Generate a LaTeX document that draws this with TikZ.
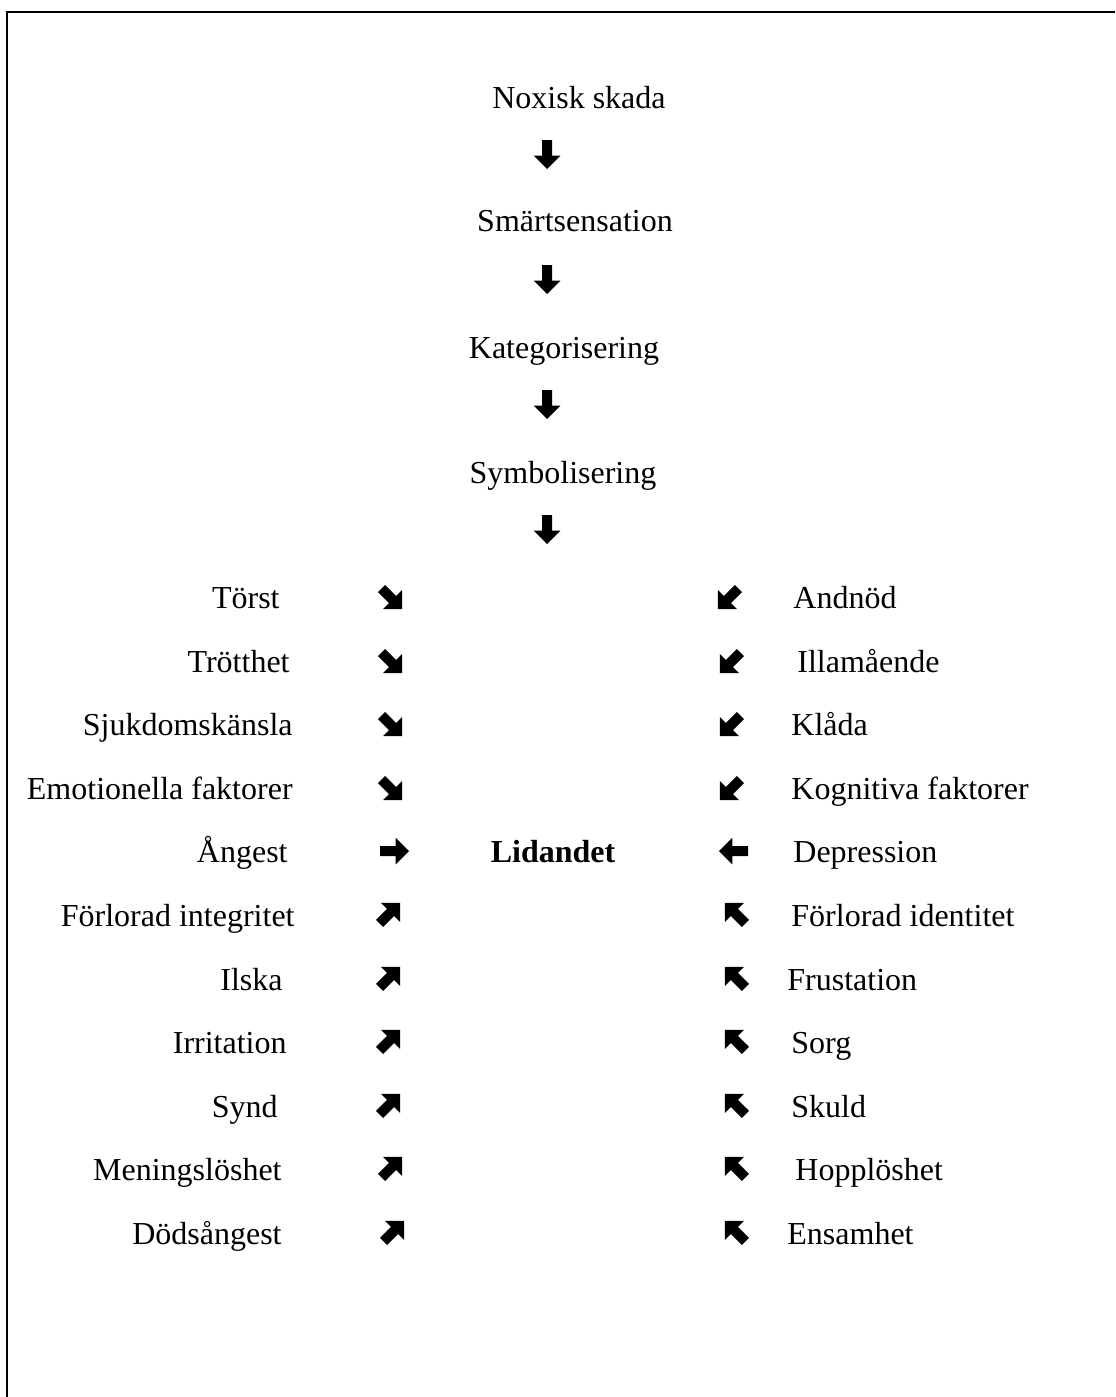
\documentclass[tikz,border=0pt]{standalone}
\usepackage{fontspec}
\setmainfont{Liberation Serif}
\usetikzlibrary{positioning,shapes.arrows}

\tikzset{
  lbl/.style={font=\fontsize{16}{19}\selectfont, inner sep=0pt},
  arr/.style={single arrow, fill=black, inner xsep=0pt, inner ysep=2.3pt,
    minimum height=14.5pt, single arrow head extend=4.2pt},
  darr/.style={arr, minimum height=14.5pt, single arrow head extend=4.2pt}
}

\begin{document}
\begin{tikzpicture}[x=0.5pt,y=-0.5pt]
\useasboundingbox (0,0) rectangle (1115,1397);
%% frame
\draw[line width=1pt] (7,1397) -- (7,12) -- (1115,12);
%the chain on top
\node [lbl,anchor=base] (noxisk) at (579,108) {Noxisk skada};
\node [arr,rotate=-90] (down1) at (547,152) {};
\node [lbl,anchor=base] (smarta) at (575,231) {Smärtsensation};
\node [arr,rotate=-90] (down2) at (547,277) {};
\node [lbl,anchor=base] (kateg) at (564,358) {Kategorisering};
\node [arr,rotate=-90] (down3) at (547,402) {};
\node [lbl,anchor=base] (symbol) at (563,483) {Symbolisering};
\node [arr,rotate=-90] (down4) at (547,527) {};
%the centre
\node [lbl,anchor=base,font=\fontsize{16}{19}\selectfont\bfseries] (lidandet) at (553,862) {Lidandet};
%left side
\node [lbl,anchor=base east] (torst) at (280,608) {Törst};
\node [lbl,anchor=base east] (trott) at (290,672) {Trötthet};
\node [lbl,anchor=base east] (sjuk) at (293,735) {Sjukdomskänsla};
\node [lbl,anchor=base east] (emot) at (293,799) {Emotionella faktorer};
\node [lbl,anchor=base east] (angest) at (288,862) {Ångest};
\node [lbl,anchor=base east] (integr) at (295,926) {Förlorad integritet};
\node [lbl,anchor=base east] (ilska) at (283,990) {Ilska};
\node [lbl,anchor=base east] (irrit) at (287,1053) {Irritation};
\node [lbl,anchor=base east] (synd) at (278,1117) {Synd};
\node [lbl,anchor=base east] (mening) at (282,1180) {Meningslöshet};
\node [lbl,anchor=base east] (dods) at (282,1244) {Dödsångest};
%left arrows
\node [darr,rotate=-45] (lArrA) at (390,597) {};
\node [darr,rotate=-45] (lArrB) at (390,661) {};
\node [darr,rotate=-45] (lArrC) at (390,724) {};
\node [darr,rotate=-45] (lArrD) at (390,788) {};
\node [arr] (lArrE) at (392,851) {};
\node [darr,rotate=45] (lArrF) at (388,915) {};
\node [darr,rotate=45] (lArrG) at (388,979) {};
\node [darr,rotate=45] (lArrH) at (388,1042) {};
\node [darr,rotate=45] (lArrI) at (388,1106) {};
\node [darr,rotate=45] (lArrJ) at (390,1169) {};
\node [darr,rotate=45] (lArrK) at (392,1233) {};
%right side
\node [lbl,anchor=base west] (andnod) at (793,608) {Andnöd};
\node [lbl,anchor=base west] (illa) at (797,672) {Illamående};
\node [lbl,anchor=base west] (klada) at (791,735) {Klåda};
\node [lbl,anchor=base west] (kogn) at (791,799) {Kognitiva faktorer};
\node [lbl,anchor=base west] (depr) at (793,862) {Depression};
\node [lbl,anchor=base west] (ident) at (791,926) {Förlorad identitet};
\node [lbl,anchor=base west] (frust) at (787,990) {Frustation};
\node [lbl,anchor=base west] (sorg) at (791,1053) {Sorg};
\node [lbl,anchor=base west] (skuld) at (791,1117) {Skuld};
\node [lbl,anchor=base west] (hopp) at (795,1180) {Hopplöshet};
\node [lbl,anchor=base west] (ensam) at (787,1244) {Ensamhet};
%right arrows
\node [darr,rotate=-135] (rArrA) at (730,597) {};
\node [darr,rotate=-135] (rArrB) at (732,661) {};
\node [darr,rotate=-135] (rArrC) at (732,724) {};
\node [darr,rotate=-135] (rArrD) at (732,788) {};
\node [arr,rotate=180] (rArrE) at (736,851) {};
\node [darr,rotate=135] (rArrF) at (737,915) {};
\node [darr,rotate=135] (rArrG) at (737,979) {};
\node [darr,rotate=135] (rArrH) at (737,1042) {};
\node [darr,rotate=135] (rArrI) at (737,1106) {};
\node [darr,rotate=135] (rArrJ) at (737,1169) {};
\node [darr,rotate=135] (rArrK) at (737,1233) {};
\end{tikzpicture}
\end{document}
